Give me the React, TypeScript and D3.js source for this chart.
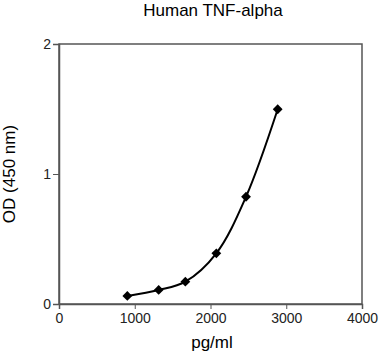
import * as React from "react";
import * as d3 from "d3";

const concentrations = [902, 1316, 1668, 2077, 2469, 2887];
const odValues = [0.062, 0.108, 0.172, 0.39, 0.825, 1.498];
const xTicks = [0, 1000, 2000, 3000, 4000];
const yTicks = [0, 1, 2];

const W = 380;
const H = 358;
const M = { left: 59, right: 18, top: 44, bottom: 54 };
const FONT = "Liberation Sans, Arial, sans-serif";

export default function App() {
  const ref = React.useRef<SVGSVGElement>(null);

  React.useEffect(() => {
    const svg = d3.select(ref.current);
    svg.selectAll("*").remove();

    const x = d3.scaleLinear().domain([0, 4000]).range([M.left, W - M.right]);
    const y = d3.scaleLinear().domain([0, 2]).range([H - M.bottom, M.top]);
    const axisColor = "#555";

    // frame
    svg.append("rect")
      .attr("x", M.left).attr("y", M.top)
      .attr("width", W - M.left - M.right)
      .attr("height", H - M.top - M.bottom)
      .attr("fill", "none").attr("stroke", axisColor).attr("stroke-width", 1.5);

    const xAxis = svg.append("g")
      .attr("transform", `translate(0,${H - M.bottom})`)
      .call(d3.axisBottom(x).tickValues(xTicks).tickSize(5).tickPadding(4).tickFormat(d3.format("d")));
    const yAxis = svg.append("g")
      .attr("transform", `translate(${M.left},0)`)
      .call(d3.axisLeft(y).tickValues(yTicks).tickSize(6).tickPadding(2).tickFormat(d3.format("d")));

    [xAxis, yAxis].forEach((g) => {
      g.select(".domain").attr("stroke", axisColor).attr("stroke-width", 1.5);
      g.selectAll(".tick line").attr("stroke", axisColor);
      g.selectAll(".tick text").attr("fill", "#222").style("font-family", FONT).style("font-size", "14px");
    });

    const pts = concentrations.map((c, i) => [x(c), y(odValues[i])] as [number, number]);
    svg.append("path")
      .attr("d", d3.line().curve(d3.curveCatmullRom.alpha(0.5))(pts))
      .attr("fill", "none").attr("stroke", "#000").attr("stroke-width", 2);

    const diamond = d3.symbol().type(d3.symbolSquare).size(48)();
    svg.selectAll("path.pt")
      .data(pts)
      .enter()
      .append("path")
      .attr("class", "pt")
      .attr("d", diamond)
      .attr("transform", (d) => `translate(${d[0]},${d[1]}) rotate(45)`)
      .attr("fill", "#000");

    svg.append("text")
      .attr("x", 213).attr("y", 16)
      .attr("text-anchor", "middle")
      .style("font-family", FONT).style("font-size", "17px")
      .text("Human TNF-alpha");

    svg.append("text")
      .attr("x", 212).attr("y", 348)
      .attr("text-anchor", "middle")
      .style("font-family", FONT).style("font-size", "17px")
      .text("pg/ml");

    svg.append("text")
      .attr("transform", `translate(15,${y(1)}) rotate(-90)`)
      .attr("text-anchor", "middle")
      .style("font-family", FONT).style("font-size", "17px")
      .text("OD (450 nm)");
  }, []);

  return <svg ref={ref} width={W} height={H} style={{ position: "absolute", left: 0, top: 0, background: "#fff" }} />;
}
